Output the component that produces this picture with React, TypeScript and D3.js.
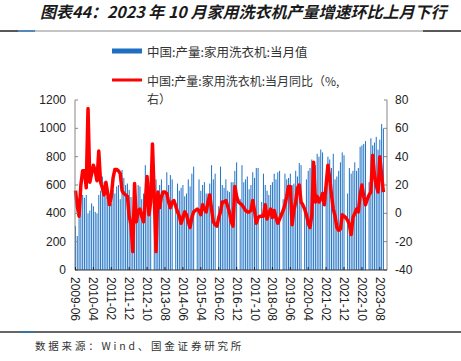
import React from 'react';
import * as d3 from 'd3';

// ---------- data ----------
const startMonth = new Date(2009, 5, 1);
const endMonth = new Date(2023, 10, 1); // exclusive -> last is 2023-10
const months: string[] = d3.timeMonth.range(startMonth, endMonth).map(d3.timeFormat('%Y-%m'));

// 中国:产量:家用洗衣机:当月值 (万台)
const production: (number | null)[] = [
  // 2009 Jun-Dec
  310, 240, 380, 540, 530, 510, 530,
  // 2010
  400, 420, 470, 450, 410, 400, 530, 560, 660, 620, 520, 560,
  // 2011
  450, 470, 565, 540, 590, 600, 500, 706, 650, 600, 610, 565,
  // 2012
  515, 380, 560, 520, 600, 590, 500, 540, 740, 600, 620, 600,
  // 2013
  null, 380, 640, 560, 600, 640, 530, 560, 690, 600, 670, 640,
  // 2014
  null, 420, 610, 560, 580, 600, 520, 540, 640, 590, 680, 730,
  // 2015
  null, 430, 640, 560, 600, 620, 540, 540, 610, 740, 640, 680,
  // 2016
  null, 450, 730, 600, 580, 640, 560, 550, 620, 620, 700, 760,
  // 2017
  null, 500, 740, 620, 640, 660, 570, 600, 690, 650, 720, 720,
  // 2018
  null, 480, 680, 600, 560, 530, 600, 620, 680, 640, 690, 700,
  // 2019
  null, 500, 680, 640, 650, 680, 600, 610, 700, 660, 755, 740,
  // 2020
  null, 420, 640, 700, 720, 780, 700, 740, 820, 800, 850, 830,
  // 2021
  null, 520, 800, 780, 720, 820, 640, 660, 700, 760, 830, 810,
  // 2022
  null, 540, 720, 680, 700, 760, 700, 720, 870, 880, 890, 910,
  // 2023 Jan-Oct
  null, 620, 930, 880, 900, 940, 850, 920, 1030, 1000,
];

// 中国:产量:家用洗衣机:当月同比 (%)
const yoy: number[] = [
  16, 5, -2, 20, 30, 30, 18,
  74, 22, 28, 34, 30, 23, 44, 22, 18, 13, 22, 14,
  6, 12, 25, 31, 31, 30, 28, 16, 14, 13, 12, -2,
  -8, -27, 21, -6, 2, 3, -2, -6, 8, 26, -1, 8,
  49, 12, -27, 15, 4, 12, 15, 15, 14, 8, 4, 8,
  9, 5, 1, -2, -7, -3, 1, -1, -6, -10, -3, 1,
  2, 3, 2, -1, 6, 3, 1, 8, 13, 3, -6, -8,
  -9, -3, 1, 8, 8, 9, 5, 1, -6, -9, 19, 12,
  8, 7, 6, 4, 2, 1, 1, 2, 9, 2, -7, -3,
  -2, -2, -2, 6, -4, 0, 3, -3, 2, -3, -7, -4,
  -1, 2, 6, 12, 19, 19, -8, 2, 8, 18, 20, 8,
  6, 3, -1, -7, -10, -1, 36, 8, 12, 8, 10, 14,
  6, 20, 34, 25, 13, 3, -2, -10, -12, -11, -1, -2,
  -3, -5, -8, -15, -3, 0, 3, 1, 13, 20, 12, 6,
  10, 13, 15, 41, 27, 20, 15, 40, 27, 15,
];

const xTickLabels = [
  '2009-06', '2010-04', '2011-02', '2011-12', '2012-10', '2013-08', '2014-06', '2015-04', '2016-02',
  '2016-12', '2017-10', '2018-08', '2019-06', '2020-04', '2021-02', '2021-12', '2022-10', '2023-08',
];
const leftTicks = [0, 200, 400, 600, 800, 1000, 1200];
const rightTicks = [-40, -20, 0, 20, 40, 60, 80];

const titleText = '图表44：2023 年 10 月家用洗衣机产量增速环比上月下行';
const legend1 = '中国:产量:家用洗衣机:当月值';
const legend2a = '中国:产量:家用洗衣机:当月同比（%,';
const legend2b = '右）';
const sourceText = '数据来源：Wind、国金证券研究所';

// ---------- layout ----------
const W = 461;
const H = 361;
const plotLeft = 75;
const plotRight = 387;
const plotTop = 100;
const plotBottom = 270;

const cjk = '"Noto Sans CJK SC", "Noto Sans", sans-serif';
const num = '"Liberation Sans", Arial, sans-serif';

export default function App() {
  const x = d3
    .scaleBand<string>()
    .domain(months)
    .range([74.6, 384.3])
    .paddingInner(0.42)
    .paddingOuter(0.21);
  const yL = d3.scaleLinear().domain([0, 1200]).range([plotBottom, plotTop]);
  const yR = d3.scaleLinear().domain([-40, 80]).range([plotBottom, plotTop]);
  const bw = x.bandwidth();
  const cx = (m: string) => (x(m) as number) + bw / 2;

  const lineGen = d3
    .line<number>()
    .x((_, i) => cx(months[i]))
    .y((d) => yR(d));
  const linePath = lineGen(yoy) || '';

  return (
    <svg
      width={W}
      height={H}
      style={{ position: 'absolute', left: 0, top: 0, background: '#fff' }}
      xmlns="http://www.w3.org/2000/svg"
    >
      <rect x={0} y={0} width={W} height={H} fill="#fff" />
      {/* title */}
      <text
        x={40}
        y={18}
        fontFamily={cjk}
        fontSize={16}
        fontWeight="bold"
        fontStyle="italic"
        fill="#1a1a1a"
      >
        {titleText}
      </text>
      <line x1={0} x2={W} y1={31} y2={31} stroke="#8a8a8a" strokeWidth={1} />
      <line x1={0} x2={18} y1={31} y2={31} stroke="#333" strokeWidth={1.5} />
      <line x1={18} x2={35} y1={31} y2={31} stroke="#2E75B6" strokeWidth={1.5} />
      <line x1={423} x2={W} y1={31} y2={31} stroke="#333" strokeWidth={1.5} />

      {/* legend */}
      <rect x={112} y={48.5} width={30} height={5} fill="#1F6FC0" />
      <text x={147} y={51} dominantBaseline="central" fontFamily={cjk} fontSize={12.5} fill="#333">
        {legend1}
      </text>
      <line x1={112} x2={142} y1={80} y2={80} stroke="#FF0000" strokeWidth={3} />
      <text x={147} y={80} dominantBaseline="central" fontFamily={cjk} fontSize={12} fill="#333">
        {legend2a}
      </text>
      <text x={147} y={98} dominantBaseline="central" fontFamily={cjk} fontSize={12} fill="#333">
        {legend2b}
      </text>

      {/* bars */}
      <g>
        {production.map((v, i) =>
          v == null ? null : (
            <rect
              key={i}
              x={x(months[i]) as number}
              y={yL(v)}
              width={bw}
              height={plotBottom - yL(v)}
              fill="#2878C8"
            />
          )
        )}
      </g>

      {/* line */}
      <path d={linePath} fill="none" stroke="#FF0000" strokeWidth={3.5} strokeLinejoin="round" />

      {/* left axis */}
      <line x1={plotLeft} x2={plotLeft} y1={plotTop} y2={plotBottom} stroke="#868686" strokeWidth={1} />
      {leftTicks.map((t) => (
        <g key={t}>
          <line x1={plotLeft} x2={plotLeft + 3} y1={yL(t)} y2={yL(t)} stroke="#868686" />
          <text
            x={66}
            y={yL(t)}
            textAnchor="end"
            dominantBaseline="central"
            fontFamily={num}
            fontSize={12}
            fill="#222"
          >
            {t}
          </text>
        </g>
      ))}

      {/* right axis */}
      <line x1={plotRight} x2={plotRight} y1={plotTop} y2={plotBottom} stroke="#868686" strokeWidth={1} />
      {rightTicks.map((t) => (
        <g key={t}>
          <line x1={plotRight - 3} x2={plotRight} y1={yR(t)} y2={yR(t)} stroke="#868686" />
          <text
            x={395}
            y={yR(t)}
            dominantBaseline="central"
            fontFamily={num}
            fontSize={12}
            fill="#222"
          >
            {t}
          </text>
        </g>
      ))}

      {/* bottom axis */}
      <line x1={plotLeft} x2={plotRight} y1={plotBottom} y2={plotBottom} stroke="#333" strokeWidth={1} />
      {xTickLabels.map((lab) => {
        const px = cx(lab);
        return (
          <g key={lab}>
            <line x1={px} x2={px} y1={plotBottom} y2={plotBottom - 3} stroke="#222" />
            <text
              transform={`translate(${px},${277}) rotate(90)`}
              dominantBaseline="central"
              fontFamily={num}
              fontSize={12}
              fill="#222"
            >
              {lab}
            </text>
          </g>
        );
      })}

      {/* source */}
      <line x1={0} x2={W} y1={332} y2={332} stroke="#333" strokeWidth={1.5} />
      <line x1={20} x2={35} y1={332} y2={332} stroke="#2E75B6" strokeWidth={1.5} />
      <text x={35} y={350} fontFamily={cjk} fontSize={10.5} letterSpacing={2.8} fill="#333">
        {sourceText}
      </text>
    </svg>
  );
}
